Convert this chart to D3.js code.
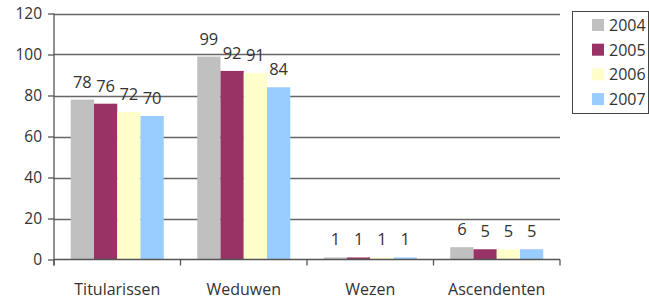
<!DOCTYPE html>
<html><head><meta charset="utf-8">
<script src="https://cdn.jsdelivr.net/npm/d3@7"></script>
<style>body{margin:0;background:#fff}svg{display:block}text{font-family:"Open Sans",sans-serif;fill:#333}</style>
</head><body><svg id="c" width="649" height="301"></svg>
<script>
const categories = ["Titularissen","Weduwen","Wezen","Ascendenten"];
const years = ["2004","2005","2006","2007"];
const v2004 = [78, 99, 1, 6];
const v2005 = [76, 92, 1, 5];
const v2006 = [72, 91, 1, 5];
const v2007 = [70, 84, 1, 5];
const yTicks = [0,20,40,60,80,100,120];
const colors = ["#C0C0C0","#993366","#FFFFCC","#99CCFF"];
const series = [v2004, v2005, v2006, v2007];

const svg = d3.select("#c");
const L = 54, R = 560, T = 13.5, B = 259.5;
const x = d3.scaleBand().domain(categories).range([L, R]).padding(0);
const xi = d3.scaleBand().domain(years).range([0, x.bandwidth()]).paddingInner(0).paddingOuter(0.72);
const y = d3.scaleLinear().domain([0,120]).range([B, T]);

// gridlines
svg.append("g").selectAll("line").data(yTicks.filter(d=>d>0)).join("line")
  .attr("x1", L).attr("x2", R).attr("y1", d=>Math.round(y(d))+0.5).attr("y2", d=>Math.round(y(d))+0.5)
  .attr("stroke", "#666").attr("stroke-width", 1.3);

// bars
categories.forEach((c, ci) => {
  series.forEach((s, si) => {
    const x0 = x(c) + xi(years[si]);
    svg.append("rect").attr("x", x0).attr("width", xi.bandwidth())
      .attr("y", y(s[ci])).attr("height", B - y(s[ci])).attr("fill", colors[si]);
  });
});

// y axis
const ya = svg.append("g").attr("transform", `translate(${L},0)`)
  .call(d3.axisLeft(y).tickValues(yTicks).tickSize(6).tickPadding(6));
ya.select(".domain").remove();
ya.selectAll(".tick line").attr("stroke", "#555").attr("stroke-width", 1.3);
ya.selectAll("text").style("font-size", "15.5px").style("font-family", '"Open Sans",sans-serif').attr("fill", "#333");
svg.append("line").attr("x1", L).attr("x2", L).attr("y1", T).attr("y2", B + 6).attr("stroke", "#555").attr("stroke-width", 1.3);

// x axis
svg.append("line").attr("x1", L).attr("x2", R).attr("y1", B).attr("y2", B).attr("stroke", "#555").attr("stroke-width", 1.3);
const bounds = categories.map(c => x(c)).concat([R]);
svg.append("g").selectAll("line").data(bounds).join("line")
  .attr("x1", d=>d).attr("x2", d=>d).attr("y1", B).attr("y2", B+6).attr("stroke", "#555").attr("stroke-width", 1.3);
svg.append("g").selectAll("text").data(categories).join("text")
  .attr("x", d => x(d) + x.bandwidth()/2).attr("y", 295).attr("text-anchor", "middle")
  .style("font-size", "16px").text(d=>d);

// value labels
categories.forEach((c, ci) => {
  series.forEach((s, si) => {
    const cx = x(c) + xi(years[si]) + xi.bandwidth()/2;
    svg.append("text").attr("x", cx).attr("y", y(s[ci]) - 12).attr("text-anchor", "middle")
      .style("font-size", "16.5px").text(s[ci]);
  });
});

// legend
svg.append("rect").attr("x", 572.5).attr("y", 11.5).attr("width", 76).attr("height", 102)
  .attr("fill", "#fff").attr("stroke", "#444").attr("stroke-width", 1);
years.forEach((yr, i) => {
  const cy = 25 + i * 24.7;
  svg.append("rect").attr("x", 592).attr("y", cy - 6).attr("width", 12).attr("height", 12).attr("fill", colors[i]);
  svg.append("text").attr("x", 609).attr("y", cy + 6).style("font-size", "16px").text(yr);
});
</script></body></html>
